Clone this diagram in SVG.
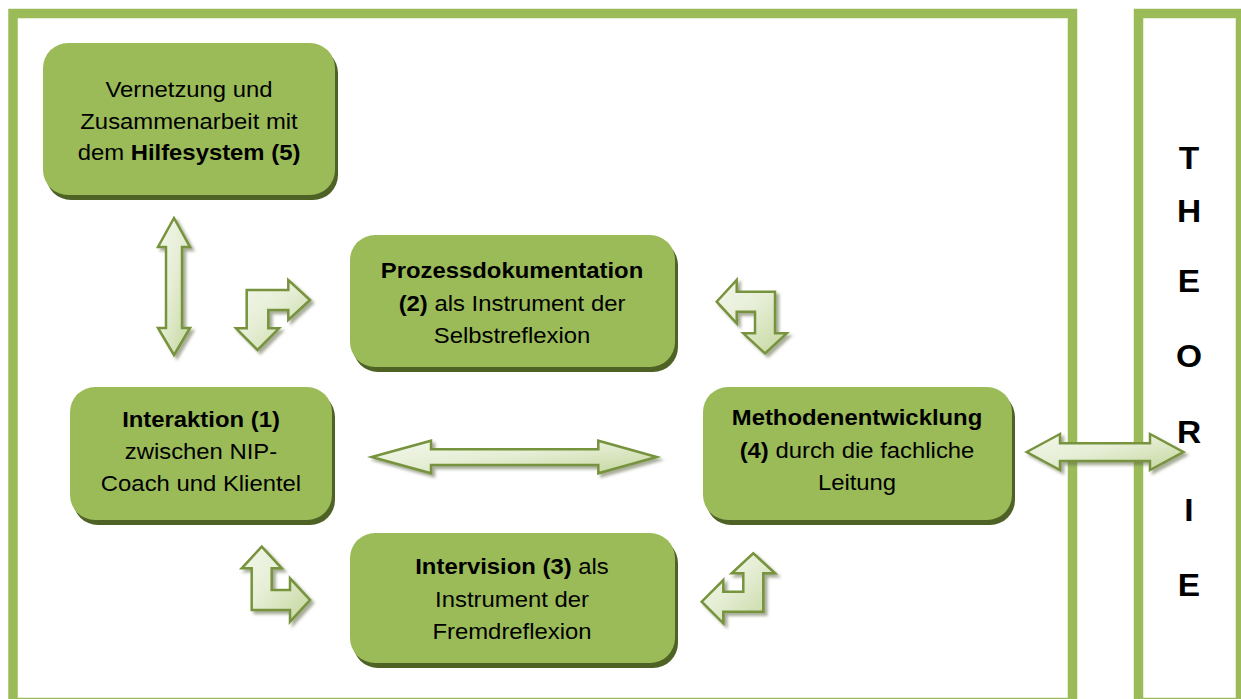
<svg xmlns="http://www.w3.org/2000/svg" width="1241" height="699" viewBox="0 0 1241 699">
<style>
  .frame { fill: none; stroke: #9bbb59; stroke-width: 9.5; }
  .body { fill: #9bbb59; }
  .shadow { fill: #4f6228; }
  .t { font-family: "Liberation Sans", Arial, sans-serif; font-size: 21.5px; fill: #000; text-anchor: middle; }
  .b { font-weight: bold; }
  .L { font-family: "Liberation Sans", Arial, sans-serif; font-size: 31px; font-weight: bold; fill: #000; text-anchor: middle; }
  .arrow { fill: url(#ag); stroke: #77933c; stroke-width: 2.5; stroke-linejoin: miter; filter: url(#ds); }
</style>
<defs>
  <linearGradient id="ag" x1="0" y1="0" x2="1" y2="1">
    <stop offset="0" stop-color="#f3f7eb"/>
    <stop offset="0.45" stop-color="#e6eed6"/>
    <stop offset="1" stop-color="#c3d69b"/>
  </linearGradient>
  <filter id="ds" x="-20%" y="-20%" width="150%" height="150%">
    <feDropShadow dx="3" dy="3" stdDeviation="1.5" flood-color="#5f6b45" flood-opacity="0.55"/>
  </filter>
  <filter id="ns" x="-5%" y="-5%" width="115%" height="115%">
    <feGaussianBlur stdDeviation="0.5"/>
  </filter>
</defs>
<rect width="1241" height="699" fill="#ffffff"/>
<g id="frames">
  <rect class="frame" x="13" y="13.5" width="1059.5" height="689"/>
  <rect class="frame" x="1138.5" y="13.5" width="102" height="689"/>
</g>
<g id="theorie">
  <g transform="translate(1189,0) scale(1.08,1)">
    <text class="L" x="0" y="169">T</text>
    <text class="L" x="0" y="222">H</text>
    <text class="L" x="0" y="292">E</text>
    <text class="L" x="0" y="367">O</text>
    <text class="L" x="0" y="443">R</text>
    <text class="L" x="0" y="521">I</text>
    <text class="L" x="0" y="596">E</text>
  </g>
</g>
<g id="node5">
  <rect class="shadow" filter="url(#ns)" x="46" y="48" width="292" height="152" rx="25"/>
  <rect class="body" x="43" y="43" width="292" height="152" rx="25"/>
  <g transform="translate(189,0) scale(1.11,1)">
    <text class="t" x="0" y="97">Vernetzung und</text>
    <text class="t" x="0" y="129">Zusammenarbeit mit</text>
    <text class="t" x="0" y="160">dem <tspan class="b">Hilfesystem (5)</tspan></text>
  </g>
</g>
<g id="node2">
  <rect class="shadow" filter="url(#ns)" x="353" y="240" width="325" height="132" rx="25"/>
  <rect class="body" x="350" y="235" width="325" height="132" rx="25"/>
  <g transform="translate(512,0) scale(1.11,1)">
    <text class="t b" x="0" y="278">Prozessdokumentation</text>
    <text class="t" x="0" y="311"><tspan class="b">(2)</tspan> als Instrument der</text>
    <text class="t" x="0" y="343">Selbstreflexion</text>
  </g>
</g>
<g id="node1">
  <rect class="shadow" filter="url(#ns)" x="73" y="392" width="262" height="133" rx="25"/>
  <rect class="body" x="70" y="387" width="262" height="133" rx="25"/>
  <g transform="translate(201,0) scale(1.11,1)">
    <text class="t b" x="0" y="427">Interaktion (1)</text>
    <text class="t" x="0" y="459">zwischen NIP-</text>
    <text class="t" x="0" y="491">Coach und Klientel</text>
  </g>
</g>
<g id="node4">
  <rect class="shadow" filter="url(#ns)" x="706" y="392" width="309" height="133" rx="25"/>
  <rect class="body" x="703" y="387" width="309" height="133" rx="25"/>
  <g transform="translate(857,0) scale(1.11,1)">
    <text class="t b" x="0" y="425">Methodenentwicklung</text>
    <text class="t" x="0" y="458"><tspan class="b">(4)</tspan> durch die fachliche</text>
    <text class="t" x="0" y="490">Leitung</text>
  </g>
</g>
<g id="node3">
  <rect class="shadow" filter="url(#ns)" x="353" y="538" width="325" height="130" rx="25"/>
  <rect class="body" x="350" y="533" width="325" height="130" rx="25"/>
  <g transform="translate(512,0) scale(1.11,1)">
    <text class="t" x="0" y="574"><tspan class="b">Intervision (3)</tspan> als</text>
    <text class="t" x="0" y="607">Instrument der</text>
    <text class="t" x="0" y="639">Fremdreflexion</text>
  </g>
</g>
<g id="connectors">
  <path class="arrow" d="M174,218 L190,247 L182,247 L182,328 L190,328 L174,355 L158,328 L166,328 L166,247 L158,247 Z"/>
  <path class="arrow" d="M246.7,290 L288.3,290 L288.3,280 L310,300 L288.3,320 L288.3,310 L268.3,310 L268.3,328.3 L279,328.3 L257.5,350 L236,328.3 L246.7,328.3 Z"/>
  <path class="arrow" d="M775,291.7 L775,333.3 L786.7,333.3 L765,353.3 L743.3,333.3 L755,333.3 L755,311.7 L736.7,311.7 L736.7,323.3 L716.7,301.7 L736.7,280 L736.7,291.7 Z"/>
  <path class="arrow" d="M251.7,610 L251.7,568.3 L241.7,568.3 L261.7,546.7 L281.7,568.3 L271.7,568.3 L271.7,590 L290,590 L290,578.3 L310,600 L290,621.7 L290,610 Z"/>
  <path class="arrow" d="M763.3,573.3 L775,573.3 L753.3,553.3 L731.7,573.3 L743.3,573.3 L743.3,591.7 L723.3,591.7 L723.3,580 L701.7,601.7 L723.3,623.3 L723.3,611.7 L763.3,611.7 Z"/>
  <path class="arrow" d="M371.7,457 L431,440.7 L431,449.3 L598.3,449.3 L598.3,440.7 L656.7,457 L598.3,473.3 L598.3,465 L431,465 L431,473.3 Z"/>
  <path class="arrow" d="M1026.7,452 L1060,434 L1060,443.3 L1150,443.3 L1150,434 L1183.3,452 L1150,470 L1150,461 L1060,461 L1060,470 Z"/>
</g>
</svg>
